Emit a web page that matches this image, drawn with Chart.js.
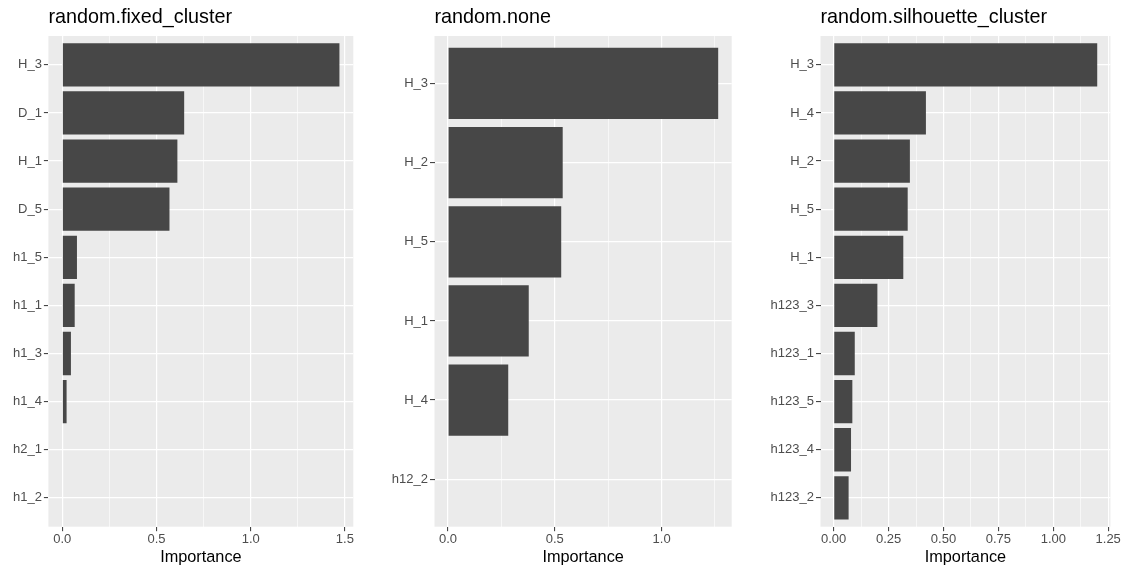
<!DOCTYPE html>
<html>
<head>
<meta charset="utf-8">
<script src="https://cdn.jsdelivr.net/npm/chart.js@4.4.1/dist/chart.umd.min.js"></script>
<style>
  html, body { margin: 0; padding: 0; background: #ffffff; overflow: hidden; }
  #wrap { position: relative; width: 1130px; height: 569px; }
  .panel { position: absolute; top: 0; height: 569px; }
  canvas { display: block; }
</style>
</head>
<body>
<div id="wrap">
  <div class="panel" style="left:0px;width:376px"><canvas id="c1" width="376" height="569"></canvas></div>
  <div class="panel" style="left:376px;width:380px"><canvas id="c2" width="380" height="569"></canvas></div>
  <div class="panel" style="left:756px;width:374px"><canvas id="c3" width="374" height="569"></canvas></div>
</div>
<script>
// Variable importance, one facet per method
const fixedTitle = 'random.fixed_cluster';
const fixedLabels = ['H_3', 'D_1', 'H_1', 'D_5', 'h1_5', 'h1_1', 'h1_3', 'h1_4', 'h2_1', 'h1_2'];
const fixedValues = [1.471, 0.647, 0.611, 0.569, 0.078, 0.066, 0.046, 0.023, 0, 0];
const fixedBreaks = [0, 0.5, 1.0, 1.5];
const fixedBreakLabels = ['0.0', '0.5', '1.0', '1.5'];

const noneTitle = 'random.none';
const noneLabels = ['H_3', 'H_2', 'H_5', 'H_1', 'H_4', 'h12_2'];
const noneValues = [1.265, 0.537, 0.530, 0.378, 0.282, 0];
const noneBreaks = [0, 0.5, 1.0];
const noneBreakLabels = ['0.0', '0.5', '1.0'];

const silTitle = 'random.silhouette_cluster';
const silLabels = ['H_3', 'H_4', 'H_2', 'H_5', 'H_1', 'h123_3', 'h123_1', 'h123_5', 'h123_4', 'h123_2'];
const silValues = [1.200, 0.420, 0.347, 0.337, 0.317, 0.199, 0.096, 0.085, 0.079, 0.068];
const silBreaks = [0, 0.25, 0.5, 0.75, 1.0, 1.25];
const silBreakLabels = ['0.00', '0.25', '0.50', '0.75', '1.00', '1.25'];

const axisTitle = 'Importance';

Chart.defaults.font.family = '"Liberation Sans", Arial, Helvetica, sans-serif';

// grey panel behind the grid
const panelBg = {
  id: 'panelBg',
  beforeDraw(chart) {
    const { ctx, chartArea: a } = chart;
    ctx.save();
    ctx.fillStyle = '#ebebeb';
    ctx.fillRect(a.left, a.top, a.right - a.left, a.bottom - a.top);
    ctx.restore();
  }
};

function makePanel(id, title, cats, vals, breaks, breakLabels, yAxisWidth, padRight) {
  const vmax = Math.max(...vals);
  const xmin = -0.05 * vmax;
  const xmax = 1.05 * vmax;
  const step = breaks[1] - breaks[0];
  const minors = [];
  breaks.forEach(b => { const m = b + step / 2; if (m < xmax) minors.push(m); });
  const xTicks = breaks.map(v => ({ value: v, minor: false }))
    .concat(minors.map(v => ({ value: v, minor: true })))
    .sort((a, b) => a.value - b.value);

  new Chart(document.getElementById(id), {
    type: 'bar',
    data: {
      datasets: [{
        data: vals.map((v, i) => ({ x: v, y: i + 1 })),
        backgroundColor: '#474747',
        borderWidth: 0,
        barPercentage: 0.9,
        categoryPercentage: 1.0
      }]
    },
    options: {
      indexAxis: 'y',
      responsive: false,
      animation: false,
      events: [],
      layout: { padding: { left: 0, right: padRight, top: 0, bottom: 0 } },
      plugins: {
        legend: { display: false },
        tooltip: { enabled: false },
        title: {
          display: true,
          text: title,
          align: 'start',
          fullSize: false,
          color: '#000000',
          font: { size: 19.8, weight: 'normal' },
          padding: { top: 5.5, bottom: 6.74 }
        }
      },
      scales: {
        x: {
          type: 'linear',
          position: 'bottom',
          offset: false,
          min: xmin,
          max: xmax,
          afterBuildTicks: s => { s.ticks = xTicks.map(t => ({ value: t.value, minor: t.minor })); },
          afterFit: s => { s.height = 42.3; },
          border: { display: false },
          grid: {
            offset: false,
            color: '#ffffff',
            lineWidth: c => (c.tick && c.tick.minor) ? 0.6 : 1.2,
            tickLength: 4.5,
            tickWidth: 1,
            tickColor: c => (c.tick && c.tick.minor) ? 'rgba(0,0,0,0)' : '#333333'
          },
          ticks: {
            autoSkip: false,
            maxRotation: 0,
            padding: 0.8,
            color: '#4d4d4d',
            font: { size: 13 },
            callback: (v, i, ticks) => ticks[i].minor ? '' : breakLabels[breaks.indexOf(v)]
          },
          title: {
            display: true,
            text: axisTitle,
            color: '#000000',
            font: { size: 16.3 },
            padding: { top: 0, bottom: 1.9 }
          }
        },
        y: {
          type: 'linear',
          reverse: true,
          offset: false,
          min: 0.4,
          max: cats.length + 0.6,
          afterBuildTicks: s => { s.ticks = cats.map((c, i) => ({ value: i + 1 })); },
          afterFit: s => { s.width = yAxisWidth; },
          border: { display: false },
          grid: {
            offset: false,
            color: '#ffffff',
            lineWidth: 1.2,
            tickLength: 4.5,
            tickWidth: 1,
            tickColor: '#333333'
          },
          ticks: {
            autoSkip: false,
            padding: 2,
            color: '#4d4d4d',
            font: { size: 13 },
            callback: v => cats[Math.round(v) - 1]
          }
        }
      }
    },
    plugins: [panelBg]
  });
}

makePanel('c1', fixedTitle, fixedLabels, fixedValues, fixedBreaks, fixedBreakLabels, 48.4, 22.7);
makePanel('c2', noneTitle, noneLabels, noneValues, noneBreaks, noneBreakLabels, 58.5, 24.3);
makePanel('c3', silTitle, silLabels, silValues, silBreaks, silBreakLabels, 64.5, 19.6);
</script>
</body>
</html>
